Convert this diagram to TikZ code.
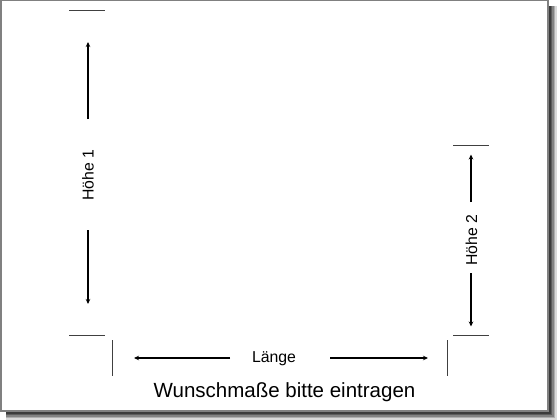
\documentclass[tikz,border=0pt]{standalone}
\usepackage{fontspec}
\setmainfont{Liberation Sans}
\usetikzlibrary{arrows.meta}
\begin{document}
\begin{tikzpicture}[x=1pt,y=-1pt,
  tick/.style={draw=black!75,line width=0.9pt},
  dimarrow/.style={draw=black,line width=1.5pt,-{Stealth[length=5pt,width=4.5pt]}},
  lbl/.style={font=\fontsize{15.8}{18}\selectfont,inner sep=0pt},
  title/.style={font=\fontsize{20.5}{24}\selectfont,inner sep=0pt}]
\useasboundingbox (0,0) rectangle (560,420);
% shadow
\foreach \d/\o in {8.5/0.15,7/0.2,5.5/0.25,4/0.3,2.5/0.35}
  \fill[black,opacity=\o] (6,6) rectangle (548+\d,411+\d);
% frame
\fill[white] (0.75,0.75) rectangle (548,411);
\draw[black!50,line width=1.5pt] (0.75,0.75) rectangle (548,411);
% Hoehe 1
\coordinate (t1a) at (69,10.5); \coordinate (t1b) at (105,10.5);
\draw[tick] (t1a) -- (t1b);
\coordinate (b1a) at (69,335); \coordinate (b1b) at (105,335);
\draw[tick] (b1a) -- (b1b);
\node[lbl,rotate=90,anchor=base] (h1) at (93.5,175) {Höhe 1};
\coordinate (h1s1) at (88,119); \coordinate (h1e1) at (88,42);
\coordinate (h1s2) at (88,230); \coordinate (h1e2) at (88,304);
\draw[dimarrow] (h1s1) -- (h1e1);
\draw[dimarrow] (h1s2) -- (h1e2);
% Hoehe 2
\coordinate (t2a) at (453,145.5); \coordinate (t2b) at (489,145.5);
\draw[tick] (t2a) -- (t2b);
\coordinate (b2a) at (453,335); \coordinate (b2b) at (489,335);
\draw[tick] (b2a) -- (b2b);
\node[lbl,rotate=90,anchor=base] (h2) at (477,240.5) {Höhe 2};
\coordinate (h2s1) at (471,202); \coordinate (h2e1) at (471,154.5);
\coordinate (h2s2) at (471,273); \coordinate (h2e2) at (471,326.5);
\draw[dimarrow] (h2s1) -- (h2e1);
\draw[dimarrow] (h2s2) -- (h2e2);
% Laenge
\coordinate (lva) at (112.5,340); \coordinate (lvb) at (112.5,375.5);
\draw[tick] (lva) -- (lvb);
\coordinate (rva) at (447,340); \coordinate (rvb) at (447,375.5);
\draw[tick] (rva) -- (rvb);
\node[lbl,anchor=base] (len) at (274,362) {Länge};
\coordinate (ls) at (230,358); \coordinate (le) at (134,358);
\coordinate (rs) at (330,358); \coordinate (re) at (428,358);
\draw[dimarrow] (ls) -- (le);
\draw[dimarrow] (rs) -- (re);
% title
\node[title,anchor=base] (ttl) at (284.5,397) {Wunschmaße bitte eintragen};
\end{tikzpicture}
\end{document}
